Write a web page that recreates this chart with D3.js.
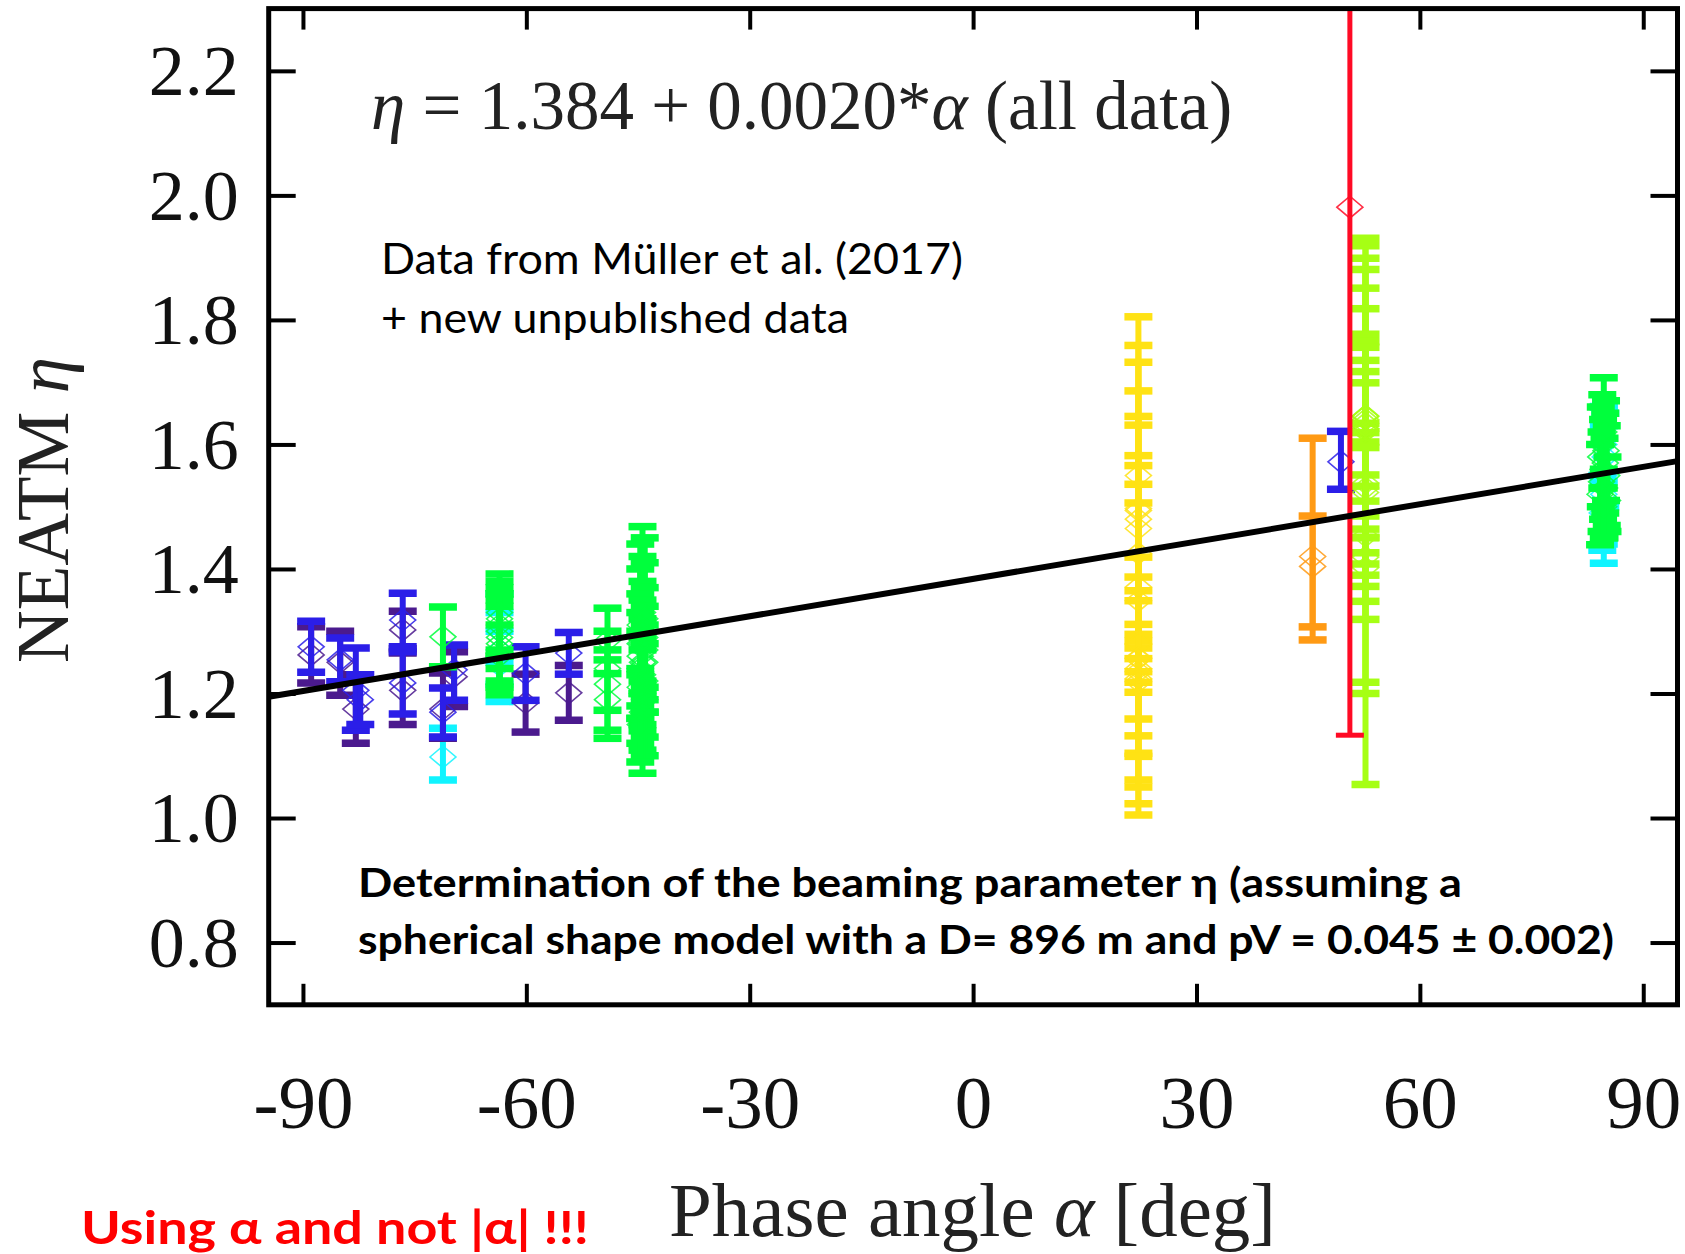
<!DOCTYPE html>
<html>
<head>
<meta charset="utf-8">
<script src="https://cdn.jsdelivr.net/npm/d3@7"></script>
<style>
  html, body { margin: 0; padding: 0; background: #fff; }
  svg { display: block; }
</style>
</head>
<body>
<svg id="chart" width="1685" height="1254"></svg>
<script>
// ---------- data: [phase angle α, η, lower bound, upper bound] ----------
const purple = [
  [-88.9, 1.262, 1.217, 1.307], [-85.0, 1.250, 1.197, 1.300], [-82.9, 1.175, 1.120, 1.230],
  [-76.6, 1.302, 1.272, 1.332], [-76.6, 1.205, 1.150, 1.265], [-71.2, 1.175, 1.128, 1.233],
  [-69.7, 1.227, 1.179, 1.267], [-60.1, 1.185, 1.138, 1.231], [-54.3, 1.201, 1.157, 1.245]
];
const blue = [
  [-88.9, 1.275, 1.234, 1.316], [-85.0, 1.254, 1.219, 1.289], [-82.9, 1.205, 1.141, 1.273],
  [-82.3, 1.190, 1.150, 1.230], [-76.6, 1.318, 1.275, 1.361], [-76.6, 1.217, 1.167, 1.267],
  [-71.2, 1.170, 1.130, 1.209], [-69.7, 1.238, 1.189, 1.278], [-60.1, 1.232, 1.189, 1.275],
  [-54.3, 1.265, 1.231, 1.298], [49.4, 1.572, 1.528, 1.621]
];
const cyan = [
  [-71.2, 1.098, 1.061, 1.144], [-63.6, 1.300, 1.250, 1.360], [-63.6, 1.270, 1.215, 1.330],
  [-63.6, 1.245, 1.187, 1.300], [84.7, 1.550, 1.440, 1.661], [84.7, 1.520, 1.409, 1.630],
  [84.9, 1.580, 1.500, 1.650], [84.5, 1.490, 1.430, 1.550], [84.7, 1.600, 1.540, 1.660]
];
const green = [
  [-71.2, 1.291, 1.243, 1.339],
  [-63.6, 1.330, 1.270, 1.392], [-63.6, 1.320, 1.260, 1.380], [-63.6, 1.300, 1.240, 1.370],
  [-63.6, 1.290, 1.220, 1.360], [-63.6, 1.280, 1.210, 1.350], [-63.6, 1.310, 1.260, 1.360],
  [-63.6, 1.270, 1.198, 1.340], [-63.6, 1.260, 1.210, 1.310],
  [-49.1, 1.285, 1.232, 1.337], [-49.1, 1.240, 1.173, 1.300], [-49.1, 1.215, 1.141, 1.270],
  [-49.1, 1.190, 1.128, 1.254],
  [-44.4, 1.330, 1.200, 1.468], [-44.1, 1.320, 1.210, 1.450], [-44.7, 1.310, 1.230, 1.440],
  [-44.4, 1.300, 1.220, 1.420], [-44.1, 1.290, 1.190, 1.410], [-44.7, 1.280, 1.180, 1.400],
  [-44.4, 1.280, 1.200, 1.380], [-44.1, 1.270, 1.170, 1.370], [-44.7, 1.260, 1.160, 1.360],
  [-44.4, 1.250, 1.150, 1.350], [-44.1, 1.250, 1.170, 1.340], [-44.7, 1.240, 1.160, 1.330],
  [-44.4, 1.230, 1.140, 1.320], [-44.1, 1.220, 1.130, 1.310], [-44.7, 1.210, 1.120, 1.300],
  [-44.4, 1.200, 1.109, 1.290], [-44.1, 1.190, 1.100, 1.280], [-44.4, 1.170, 1.072, 1.270],
  [-44.7, 1.150, 1.090, 1.240],
  [84.7, 1.620, 1.530, 1.707], [84.5, 1.600, 1.530, 1.680], [85.0, 1.590, 1.510, 1.670],
  [84.3, 1.580, 1.500, 1.660], [84.9, 1.570, 1.490, 1.650], [84.6, 1.560, 1.480, 1.640],
  [85.1, 1.550, 1.470, 1.630], [84.4, 1.540, 1.460, 1.620], [84.8, 1.530, 1.450, 1.610],
  [84.2, 1.520, 1.439, 1.600], [85.2, 1.510, 1.460, 1.580], [84.7, 1.500, 1.450, 1.560]
];
const yellow = [
  [22.2, 1.550, 1.295, 1.805], [22.2, 1.497, 1.235, 1.759], [22.2, 1.494, 1.256, 1.732],
  [22.2, 1.480, 1.273, 1.686], [22.2, 1.465, 1.284, 1.645], [22.2, 1.425, 1.218, 1.631],
  [22.2, 1.371, 1.159, 1.582], [22.2, 1.349, 1.132, 1.566], [22.2, 1.280, 1.023, 1.536],
  [22.2, 1.256, 1.005, 1.506], [22.2, 1.240, 1.061, 1.419], [22.2, 1.219, 1.050, 1.387],
  [22.2, 1.235, 1.104, 1.365], [22.2, 1.224, 1.099, 1.349], [22.2, 1.257, 1.202, 1.311]
];
const orange = [[45.6, 1.420, 1.286, 1.610], [45.6, 1.404, 1.307, 1.485]];
const yellowGreen = [
  [52.7, 1.640, 1.348, 1.931], [52.7, 1.646, 1.372, 1.919], [52.7, 1.645, 1.390, 1.899],
  [52.7, 1.645, 1.408, 1.881], [52.7, 1.453, 1.054, 1.851], [52.7, 1.634, 1.450, 1.818],
  [52.7, 1.621, 1.464, 1.777], [52.7, 1.625, 1.485, 1.765], [52.7, 1.538, 1.319, 1.756],
  [52.7, 1.622, 1.509, 1.735], [52.7, 1.625, 1.533, 1.717], [52.7, 1.625, 1.551, 1.699],
  [52.7, 1.530, 1.426, 1.634], [52.7, 1.419, 1.218, 1.619], [52.7, 1.402, 1.200, 1.604],
  [52.7, 1.523, 1.451, 1.595]
];
const red = [[50.6, 1.981, 1.133, 2.829]];

const fitIntercept = 1.384, fitSlope = 0.0020;
const xTicks = [-90, -60, -30, 0, 30, 60, 90];
const yTicks = [0.8, 1.0, 1.2, 1.4, 1.6, 1.8, 2.0, 2.2];
const xDomain = [-94.6, 94.6];
const yDomain = [0.7, 2.3];

// ---------- layout ----------
const svg = d3.select("#chart");
const L = 268.7, R = 1677.5, T = 8.6, B = 1004.8;
const x = d3.scaleLinear().domain(xDomain).range([L, R]);
const y = d3.scaleLinear().domain(yDomain).range([B, T]);

svg.append("rect").attr("width", 1685).attr("height", 1254).attr("fill", "#fff");
svg.append("defs").append("clipPath").attr("id", "plotclip")
  .append("rect").attr("x", L).attr("y", T).attr("width", R - L).attr("height", B - T);

const plot = svg.append("g").attr("clip-path", "url(#plotclip)");

const series = [
  { data: cyan, color: "#10f4ff" },
  { data: purple, color: "#4b1a8e" },
  { data: blue, color: "#2b1ee8" },
  { data: green, color: "#00ff3c" },
  { data: yellow, color: "#ffe214" },
  { data: orange, color: "#ff9a14" },
  { data: yellowGreen, color: "#a6ff14" },
  { data: red, color: "#ff0a24", stem: 5, cap: 5 }
];

series.forEach(s => {
  const g = plot.append("g");
  const stemW = s.stem || 6, capW = s.cap || 7.5, half = 14;
  s.data.forEach(d => {
    const cx = x(d[0]);
    g.append("line").attr("x1", cx).attr("x2", cx).attr("y1", y(d[2])).attr("y2", y(d[3]))
      .attr("stroke", s.color).attr("stroke-width", stemW);
    [d[2], d[3]].forEach(v => {
      g.append("line").attr("x1", cx - half).attr("x2", cx + half).attr("y1", y(v)).attr("y2", y(v))
        .attr("stroke", s.color).attr("stroke-width", capW);
    });
  });
  s.data.forEach(d => {
    const cx = x(d[0]), cy = y(d[1]);
    g.append("path")
      .attr("d", `M${cx - 13},${cy} L${cx},${cy - 11} L${cx + 13},${cy} L${cx},${cy + 11} Z`)
      .attr("fill", "none").attr("stroke", s.color).attr("stroke-width", 1.6).attr("opacity", 0.85);
  });
});

// fit line
plot.append("line")
  .attr("x1", x(xDomain[0])).attr("y1", y(fitIntercept + fitSlope * xDomain[0]))
  .attr("x2", x(xDomain[1])).attr("y2", y(fitIntercept + fitSlope * xDomain[1]))
  .attr("stroke", "#000").attr("stroke-width", 6);

// ---------- axes ----------
const serif = "'Liberation Serif', 'Times New Roman', serif";
const styleAxis = g => {
  g.select(".domain").remove();
  g.selectAll(".tick line").attr("stroke", "#000").attr("stroke-width", 4);
  g.selectAll("text").attr("font-family", serif).attr("fill", "#111");
};

svg.append("g").attr("transform", `translate(${L},0)`)
  .call(d3.axisLeft(y).tickValues(yTicks).tickSize(-27).tickPadding(30).tickFormat(d => d.toFixed(1)))
  .call(styleAxis)
  .call(g => g.selectAll("text").attr("font-size", 72).attr("dy", "0.33em"));

svg.append("g").attr("transform", `translate(${R},0)`)
  .call(d3.axisRight(y).tickValues(yTicks).tickSize(-27).tickFormat(""))
  .call(styleAxis);

svg.append("g").attr("transform", `translate(0,${B})`)
  .call(d3.axisBottom(x).tickValues(xTicks).tickSize(-21).tickPadding(70).tickFormat(d => String(d)))
  .call(styleAxis)
  .call(g => g.selectAll("text").attr("font-size", 75).attr("dy", "0.71em"));

svg.append("g").attr("transform", `translate(0,${T})`)
  .call(d3.axisTop(x).tickValues(xTicks).tickSize(-21).tickFormat(""))
  .call(styleAxis);

// frame
svg.append("rect").attr("x", L).attr("y", T).attr("width", R - L).attr("height", B - T)
  .attr("fill", "none").attr("stroke", "#000").attr("stroke-width", 5);

// ---------- texts ----------
const eq = svg.append("text").attr("x", 371).attr("y", 129)
  .attr("font-family", serif).attr("font-size", 69).attr("fill", "#222");
eq.append("tspan").attr("font-style", "italic").text("η");
eq.append("tspan").text(" = 1.384 + 0.0020*");
eq.append("tspan").attr("font-style", "italic").text("α");
eq.append("tspan").text(" (all data)");

const sans = "Lato, 'Open Sans', sans-serif";
const addText = (txt, xx, yy, size, len, weight, color) =>
  svg.append("text").attr("x", xx).attr("y", yy).attr("font-family", sans)
    .attr("font-size", size).attr("font-weight", weight || "normal").attr("fill", color || "#000")
    .attr("textLength", len).attr("lengthAdjust", "spacingAndGlyphs").text(txt);

addText("Data from Müller et al. (2017)", 381, 274, 42, 582);
addText("+ new unpublished data", 381, 333, 42, 468);
addText("Determination of the beaming parameter η (assuming a", 358, 897, 40, 1104, "bold");
addText("spherical shape model with a D= 896 m and pV = 0.045 ± 0.002)", 358, 954, 40, 1256, "bold");
addText("Using α and not |α| !!!", 81, 1244, 45, 508, "bold", "#ff0000");

const xt = svg.append("text").attr("x", 972.5).attr("y", 1236).attr("text-anchor", "middle")
  .attr("font-family", serif).attr("font-size", 77).attr("fill", "#222");
xt.append("tspan").text("Phase angle ");
xt.append("tspan").attr("font-style", "italic").text("α");
xt.append("tspan").text(" [deg]");

const yt = svg.append("text").attr("transform", "translate(68,510) rotate(-90)")
  .attr("text-anchor", "middle").attr("font-family", serif).attr("font-size", 73).attr("fill", "#222");
yt.append("tspan").text("NEATM ");
yt.append("tspan").attr("font-style", "italic").text("η");
</script>
</body>
</html>
